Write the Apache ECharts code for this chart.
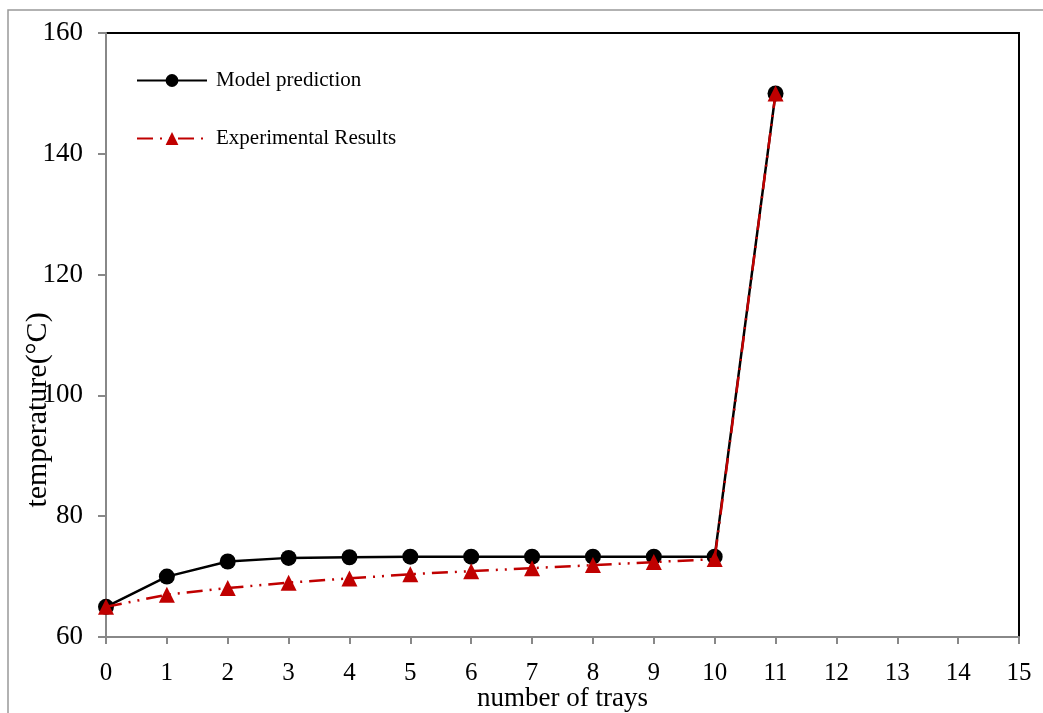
<!DOCTYPE html>
<html>
<head>
<meta charset="utf-8">
<script src="https://cdn.jsdelivr.net/npm/echarts@6/dist/echarts.min.js"></script>
<style>
  html, body { margin: 0; padding: 0; background: #fff; }
  #chart { width: 1043px; height: 713px; }
</style>
</head>
<body>
<div id="chart"></div>
<script>
// trays 0..11
const trays = [0, 1, 2, 3, 4, 5, 6, 7, 8, 9, 10, 11];
const modelPrediction = [65, 70, 72.5, 73.1, 73.2, 73.3, 73.3, 73.3, 73.3, 73.3, 73.3, 150];
const experimentalResults = [65, 67, 68.1, 69, 69.7, 70.4, 70.9, 71.4, 71.9, 72.4, 72.9, 150];

const serif = "'Liberation Serif', 'DejaVu Serif', serif";

const chart = echarts.init(document.getElementById("chart"));

chart.setOption({
  animation: false,
  backgroundColor: "#fff",
  graphic: [
    {
      // outer frame
      type: "rect",
      shape: { x: 8, y: 10, width: 1100, height: 800 },
      style: { fill: "none", stroke: "#999", lineWidth: 1.5 },
      z: -1
    }
  ],
  grid: {
    left: 106,
    top: 33,
    right: 24,
    bottom: 76,
    outerBoundsMode: "none",
    containLabel: false,
    show: true,
    borderColor: "#000",
    borderWidth: 2
  },
  legend: [
    {
      data: ["Model prediction"],
      left: 131,
      top: 65,
      itemWidth: 70,
      itemHeight: 16,
      textStyle: { fontFamily: serif, fontSize: 21, color: "#000", padding: [0, 0, 0, 4] }
    },
    {
      data: ["Experimental Results"],
      left: 131,
      top: 123,
      itemWidth: 70,
      itemHeight: 16,
      textStyle: { fontFamily: serif, fontSize: 21, color: "#000", padding: [0, 0, 0, 4] }
    }
  ],
  xAxis: {
    type: "value",
    min: 0,
    max: 15,
    interval: 1,
    name: "number of trays",
    nameLocation: "middle",
    nameMoveOverlap: false,
    nameGap: 48,
    nameTextStyle: { fontFamily: serif, fontSize: 27, color: "#000" },
    axisLine: { onZero: false, lineStyle: { color: "#888", width: 2 } },
    axisTick: { inside: false, length: 7, lineStyle: { color: "#888", width: 2 } },
    axisLabel: { fontFamily: serif, fontSize: 25, color: "#000", margin: 24 },
    splitLine: { show: false }
  },
  yAxis: {
    type: "value",
    min: 60,
    max: 160,
    interval: 20,
    name: "temperature(°C)",
    nameLocation: "middle",
    nameRotate: 90,
    nameMoveOverlap: false,
    nameGap: 53,
    nameTextStyle: { fontFamily: serif, fontSize: 30, color: "#000", padding: [0, 150, 0, 0] },
    axisLine: { show: true, lineStyle: { color: "#888", width: 2 } },
    axisTick: { show: true, inside: false, length: 8, lineStyle: { color: "#888", width: 2 } },
    axisLabel: { fontFamily: serif, fontSize: 27, color: "#000", margin: 23 },
    splitLine: { show: false }
  },
  series: [
    {
      name: "Model prediction",
      type: "line",
      data: trays.map((t, i) => [t, modelPrediction[i]]),
      symbol: "circle",
      symbolSize: 16,
      itemStyle: { color: "#000" },
      lineStyle: { color: "#000", width: 2.5 },
      z: 2
    },
    {
      name: "Experimental Results",
      type: "line",
      data: trays.map((t, i) => [t, experimentalResults[i]]),
      symbol: "triangle",
      symbolSize: 16,
      itemStyle: { color: "#C00000" },
      lineStyle: { color: "#C00000", width: 2.5, type: [16, 7, 2, 7, 2, 7] },
      z: 3
    }
  ]
});
</script>
</body>
</html>
